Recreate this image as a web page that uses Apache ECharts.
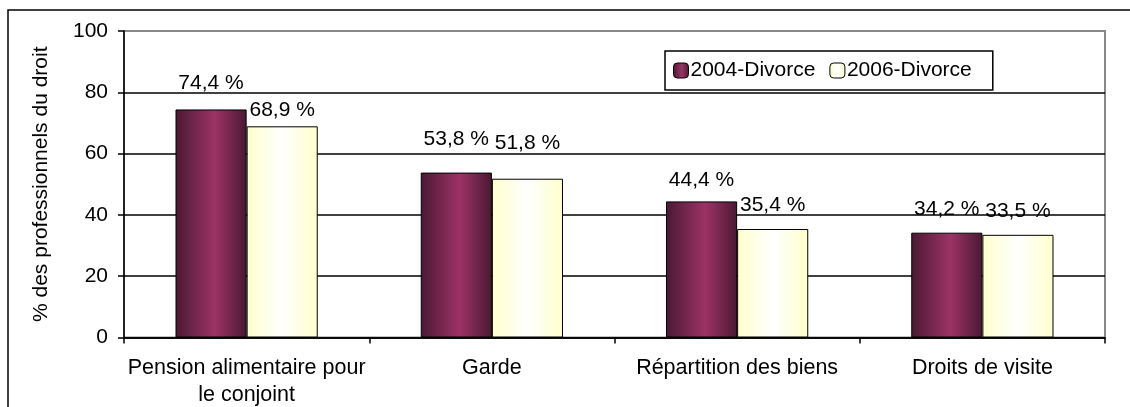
<!DOCTYPE html>
<html>
<head>
<meta charset="utf-8">
<script src="https://cdn.jsdelivr.net/npm/echarts@6/dist/echarts.min.js"></script>
<style>
html,body{margin:0;padding:0;background:#fff;}
#chart{width:1130px;height:407px;}
</style>
</head>
<body>
<div id="chart"></div>
<script>
const categories = ['Pension alimentaire pour\nle conjoint', 'Garde', 'Répartition des biens', 'Droits de visite'];
const seriesNames = ['2004-Divorce', '2006-Divorce'];
const values2004 = [74.4, 53.8, 44.4, 34.2];
const values2006 = [68.9, 51.8, 35.4, 33.5];
const yTicks = [0, 20, 40, 60, 80, 100];
// label distances above bars (styling of label placement)
const labelDist2004 = [16, 23, 11, 13];
const labelDist2006 = [6, 25, 13, 13];

const FONT = 'Liberation Sans, Arial, sans-serif';

function grad(edge, mid, peak) {
  return new echarts.graphic.LinearGradient(0, 0, 1, 0, [
    {offset: 0, color: edge},
    {offset: peak, color: mid},
    {offset: 1, color: edge}
  ]);
}
const purple = grad('#4a1933', '#9c3366', 0.55);
const yellow = grad('#ffffcc', '#ffffff', 0.5);

function fmt(p) { return p.value.toFixed(1).replace('.', ',') + ' %'; }

function mk(vals, dists) {
  return vals.map((v, i) => ({value: v, label: {distance: dists[i]}}));
}

const chart = echarts.init(document.getElementById('chart'), null, {renderer: 'canvas'});
chart.setOption({
  animation: false,
  backgroundColor: '#fff',
  textStyle: {fontFamily: FONT, color: '#000'},
  graphic: [{
    type: 'rect',
    shape: {x: 8, y: 10, width: 1140, height: 420},
    style: {fill: 'none', stroke: '#000', lineWidth: 1.5},
    silent: true, z: 0
  }],
  grid: {
    left: 124, right: 25, top: 31, bottom: 69.5,
    outerBoundsMode: 'none', containLabel: false,
    show: true, borderColor: '#888', borderWidth: 2, backgroundColor: 'transparent'
  },
  legend: {
    left: 665, top: 51,
    data: seriesNames,
    itemWidth: 15, itemHeight: 15, itemGap: 14,
    backgroundColor: '#fff', borderColor: '#000', borderWidth: 1.5,
    padding: [9, 21, 9, 8],
    textStyle: {fontFamily: FONT, fontSize: 21, color: '#000', padding: [0, 0, 0, -3]},
    itemStyle: {borderColor: '#000', borderWidth: 1}
  },
  xAxis: {
    type: 'category',
    data: categories,
    axisLine: {lineStyle: {color: '#000', width: 1.5}},
    axisTick: {show: true, length: 6, lineStyle: {color: '#000', width: 1.5}},
    axisLabel: {fontFamily: FONT, fontSize: 21.5, color: '#000', lineHeight: 27, margin: 17, interval: 0}
  },
  yAxis: {
    type: 'value',
    min: 0, max: 100, interval: 20,
    name: '% des professionnels du droit',
    nameLocation: 'middle', nameRotate: 90, nameGap: 72,
    nameTextStyle: {fontFamily: FONT, fontSize: 21, color: '#000'},
    axisLine: {show: true, lineStyle: {color: '#000', width: 1.5}},
    axisTick: {show: true, length: 6, lineStyle: {color: '#000', width: 1.5}},
    axisLabel: {fontFamily: FONT, fontSize: 21, color: '#000', margin: 16,
      formatter: v => yTicks.includes(v) ? String(v) : ''},
    splitLine: {show: true, showMaxLine: false, lineStyle: {color: '#000', width: 1.5}}
  },
  series: [
    {
      name: seriesNames[0], type: 'bar',
      data: mk(values2004, labelDist2004),
      barGap: '0%', barCategoryGap: '42%',
      itemStyle: {color: purple, borderColor: '#000', borderWidth: 1},
      label: {show: true, position: 'top', formatter: fmt, fontFamily: FONT, fontSize: 21, color: '#000'}
    },
    {
      name: seriesNames[1], type: 'bar',
      data: mk(values2006, labelDist2006),
      barGap: '0%', barCategoryGap: '42%',
      itemStyle: {color: yellow, borderColor: '#000', borderWidth: 1},
      label: {show: true, position: 'top', formatter: fmt, fontFamily: FONT, fontSize: 21, color: '#000'}
    }
  ]
});
</script>
</body>
</html>
